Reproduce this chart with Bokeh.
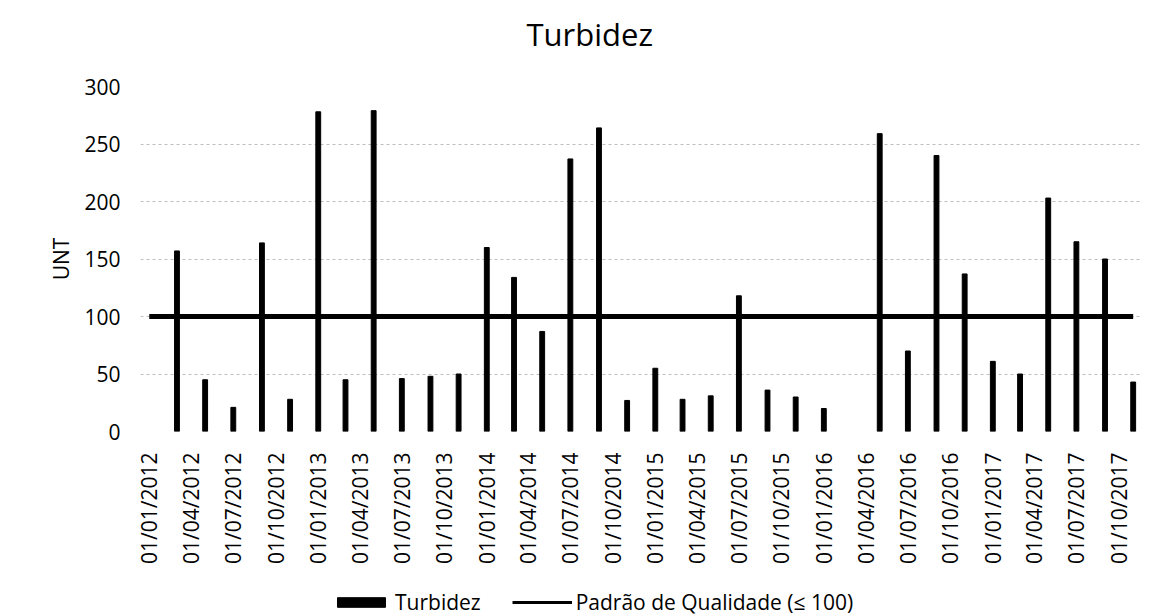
import math
import pandas as pd
from bokeh.plotting import figure
from bokeh.layouts import column
from bokeh.models import (Range1d, FixedTicker, DatetimeTickFormatter, Legend,
                          LegendItem, ColumnDataSource)
from bokeh.embed import file_html
from bokeh.resources import INLINE

# ---------------- data ----------------
datas = ["01/01/2012", "01/03/2012", "01/05/2012", "01/07/2012", "01/09/2012", "01/11/2012",
         "01/01/2013", "01/03/2013", "01/05/2013", "01/07/2013", "01/09/2013", "01/11/2013",
         "01/01/2014", "01/03/2014", "01/05/2014", "01/07/2014", "01/09/2014", "01/11/2014",
         "01/01/2015", "01/03/2015", "01/05/2015", "01/07/2015", "01/09/2015", "01/11/2015",
         "01/01/2016", "01/03/2016", "01/05/2016", "01/07/2016", "01/09/2016", "01/11/2016",
         "01/01/2017", "01/03/2017", "01/05/2017", "01/07/2017", "01/09/2017", "01/11/2017"]

turbidez = [None, 157, 45, 21, 164, 28,
            278, 45, 279, 46, 48, 50,
            160, 134, 87, 237, 264, 27,
            55, 28, 31, 118, 36, 30,
            20, None, 259, 70, 240, 137,
            61, 50, 203, 165, 150, 43]

padrao = [100, 100, 100, 100, 100, 100,
          100, 100, 100, 100, 100, 100,
          100, 100, 100, 100, 100, 100,
          100, 100, 100, 100, 100, 100,
          100, 100, 100, 100, 100, 100,
          100, 100, 100, 100, 100, 100]

x_tick_labels = ["01/01/2012", "01/04/2012", "01/07/2012", "01/10/2012",
                 "01/01/2013", "01/04/2013", "01/07/2013", "01/10/2013",
                 "01/01/2014", "01/04/2014", "01/07/2014", "01/10/2014",
                 "01/01/2015", "01/04/2015", "01/07/2015", "01/10/2015",
                 "01/01/2016", "01/04/2016", "01/07/2016", "01/10/2016",
                 "01/01/2017", "01/04/2017", "01/07/2017", "01/10/2017"]

y_ticks = [0, 50, 100, 150, 200, 250, 300]

titulo = "Turbidez"
y_titulo = "UNT"
legenda_barras = "Turbidez"
legenda_linha = "Padrão de Qualidade (≤ 100)"

# ---------------- build ----------------
FONT = "Open Sans"
DAY = 86400000
W = 1163
BAR_W = 10.5 * DAY

df = pd.DataFrame({"x": pd.to_datetime(datas, format="%d/%m/%Y"),
                   "turb": pd.array(turbidez, dtype="Float64"),
                   "pad": padrao})
bars = df.dropna(subset=["turb"]).copy()
bars["turb"] = bars["turb"].astype(float)

src_bars = ColumnDataSource(dict(x=bars["x"], top=bars["turb"]))
src_line = ColumnDataSource(dict(x=df["x"], y=df["pad"]))

tick_ms = [int(t.value // 10**6) for t in pd.to_datetime(x_tick_labels, format="%d/%m/%Y")]

x_start = pd.Timestamp(df["x"].iloc[0]) - pd.Timedelta(days=19)
x_end = pd.Timestamp(df["x"].iloc[-1]) + pd.Timedelta(days=18)
x_range = Range1d(x_start, x_end)

# ---- title strip ----
t = figure(width=W, height=70, x_range=Range1d(0, 1), y_range=Range1d(0, 1),
           output_backend="svg", toolbar_location=None,
           min_border_left=140, min_border_right=22, min_border_top=64, min_border_bottom=0,
           x_axis_location=None, y_axis_location=None)
t.outline_line_color = None
t.xgrid.grid_line_color = None
t.ygrid.grid_line_color = None
t.title.text = titulo
t.title.text_font = FONT
t.title.text_font_size = "31px"
t.title.text_font_style = "normal"
t.title.text_color = "black"
t.title.align = "left"
t.title.offset = 386
t.title.standoff = 20

# ---- main chart ----
p = figure(width=W, height=505, x_axis_type="datetime",
           x_range=x_range, y_range=Range1d(0, 300),
           output_backend="svg", toolbar_location=None,
           min_border_left=140, min_border_right=22,
           min_border_top=16, min_border_bottom=144)

p.background_fill_color = "white"
p.border_fill_color = "white"
p.outline_line_color = None

r_bar = p.vbar(x="x", top="top", width=BAR_W, source=src_bars,
               fill_color="black", line_color="black")
r_line = p.line(x="x", y="y", source=src_line, line_color="black", line_width=5)

# axes
p.xaxis.ticker = FixedTicker(ticks=tick_ms)
fmt = "%d/%m/%Y"
p.xaxis.formatter = DatetimeTickFormatter(microseconds=fmt, milliseconds=fmt, seconds=fmt,
                                          minsec=fmt, minutes=fmt, hourmin=fmt, hours=fmt,
                                          days=fmt, months=fmt, years=fmt)
p.xaxis.major_label_orientation = math.pi / 2
p.yaxis.ticker = FixedTicker(ticks=y_ticks)
p.yaxis.axis_label = y_titulo

for ax in (p.xaxis[0], p.yaxis[0]):
    ax.axis_line_color = None
    ax.major_tick_line_color = None
    ax.minor_tick_line_color = None
    ax.major_tick_in = 0
    ax.major_tick_out = 0
    ax.major_label_text_font = FONT
    ax.major_label_text_font_size = "21px"
    ax.major_label_text_color = "black"

p.xaxis.major_label_standoff = 21
p.yaxis.major_label_standoff = 20
p.yaxis.axis_label_text_font = FONT
p.yaxis.axis_label_text_font_size = "21px"
p.yaxis.axis_label_text_font_style = "normal"
p.yaxis.axis_label_text_color = "black"
p.yaxis.axis_label_standoff = 6

# grid
p.xgrid.grid_line_color = None
p.ygrid.grid_line_color = "#bdbdbd"
p.ygrid.grid_line_dash = "3 3"
p.ygrid.grid_line_width = 1

# ---- legend strip: same series, viewed through a y window above the data ----
q = figure(width=W, height=41, x_axis_type="datetime",
           x_range=x_range, y_range=Range1d(1000, 1001),
           output_backend="svg", toolbar_location=None,
           min_border_left=140, min_border_right=22, min_border_top=0, min_border_bottom=0,
           x_axis_location=None, y_axis_location=None)
q.outline_line_color = None
q.xgrid.grid_line_color = None
q.ygrid.grid_line_color = None
k_bar = q.vbar(x="x", top="top", width=BAR_W, source=src_bars,
               fill_color="black", line_color="black")
k_line = q.line(x="x", y="y", source=src_line, line_color="black", line_width=3)

legend = Legend(items=[LegendItem(label=legenda_barras, renderers=[k_bar]),
                       LegendItem(label=legenda_linha, renderers=[k_line])],
                orientation="horizontal", location=(191, 0),
                border_line_color=None, background_fill_alpha=0,
                padding=0, margin=0, spacing=31,
                glyph_width=60, glyph_height=12, label_standoff=4,
                label_text_font=FONT, label_text_font_size="21px",
                label_text_color="black")
q.add_layout(legend, "center")

layout = column(t, p, q, spacing=0)
open("out.html", "w").write(file_html(layout, INLINE))
